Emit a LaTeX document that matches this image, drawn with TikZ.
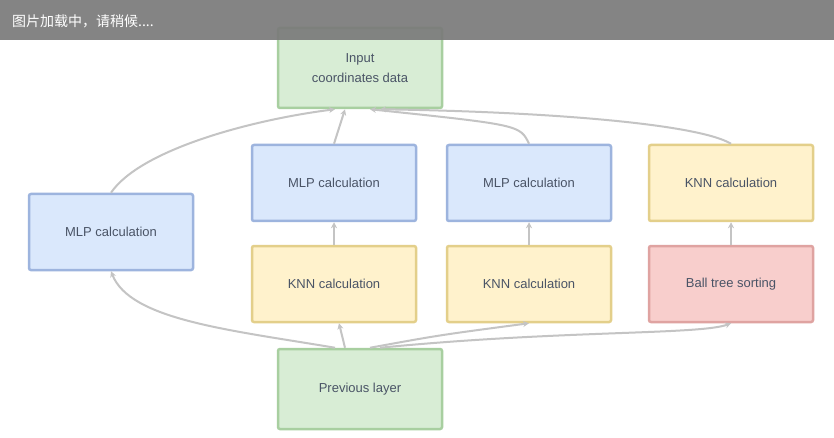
\documentclass[tikz,border=0pt]{standalone}
\usepackage{fontspec}
\setmainfont{Liberation Sans}
\newfontfamily\cjk{Noto Sans CJK SC}
\usetikzlibrary{arrows.meta}
\definecolor{bluefill}{HTML}{DAE8FC}\definecolor{blueline}{HTML}{9DB4DE}
\definecolor{yelfill}{HTML}{FFF2CC}\definecolor{yelline}{HTML}{E3CF8A}
\definecolor{redfill}{HTML}{F8CECC}\definecolor{redline}{HTML}{DFA3A1}
\definecolor{grnfill}{HTML}{D8EDD5}\definecolor{grnline}{HTML}{A8CFA0}
\definecolor{wire}{HTML}{C4C4C4}
\definecolor{labeltext}{HTML}{4A5466}
\definecolor{bannergray}{HTML}{7A7A7A}
\tikzset{
  box/.style={draw, line width=2.5pt, rounded corners=2pt, minimum width=164pt,
    minimum height=76pt, align=center, font=\fontsize{13}{20}\selectfont,
    text=labeltext},
  bluebox/.style={box, fill=bluefill, draw=blueline},
  yelbox/.style={box, fill=yelfill, draw=yelline},
  redbox/.style={box, fill=redfill, draw=redline},
  grnbox/.style={box, fill=grnfill, draw=grnline},
  flow/.style={draw=wire, line width=2pt, -{Stealth[length=6pt,width=6pt]}},
}
\begin{document}
\begin{tikzpicture}[x=1pt,y=-1pt]
\useasboundingbox (0,0) rectangle (834,438);
\fill[white] (0,0) rectangle (834,438);

% boxes
\node[grnbox, minimum height=80pt] (top) at (360,68) {Input\\coordinates data};
\node[bluebox] (left) at (111,232) {MLP calculation};
\node[bluebox] (b1) at (334,183) {MLP calculation};
\node[bluebox] (b2) at (529,183) {MLP calculation};
\node[yelbox] (y3) at (731,183) {KNN calculation};
\node[yelbox] (y1) at (334,284) {KNN calculation};
\node[yelbox] (y2) at (529,284) {KNN calculation};
\node[redbox] (r3) at (731,284) {Ball tree sorting};
\node[grnbox, minimum height=80pt] (bot) at (360,389) {Previous layer};

% vertical links inside each column
\draw[flow] (y1.north) -- (b1.south);
\draw[flow] (y2.north) -- (b2.south);
\draw[flow] (r3.north) -- (y3.north |- y3.south);

% links from the previous layer
\draw[flow] (bot.north) ++(-15,0) -- ([xshift=5pt]y1.south);
\draw[flow] (bot.north) ++(10,0) .. controls (440,335) .. (y2.south);
\draw[flow] ([xshift=20pt]bot.north) .. controls (560,330) and (700,335) .. (r3.south);
\draw[flow] ([xshift=-25pt]bot.north) .. controls (230,330) and (130,320) .. (left.south);

% links into the top input box
\draw[flow] (b1.north) -- ([xshift=-15pt]top.south);
\draw[flow] (left.north) .. controls (140,150) and (250,120) .. ([xshift=-25pt]top.south);
\draw[flow] (b2.north) .. controls (520,125) .. ([xshift=10pt]top.south);
\draw[flow] (y3.north) .. controls (700,125) and (560,112) .. ([xshift=20pt]top.south);

% loading banner
\fill[bannergray, opacity=0.92] (0,0) rectangle (834,40);
\node[anchor=west, text=white, font=\cjk\fontsize{14}{18}\selectfont, inner sep=0pt]
  (banner) at (12,21) {图片加载中，请稍候....};
\end{tikzpicture}
\end{document}
